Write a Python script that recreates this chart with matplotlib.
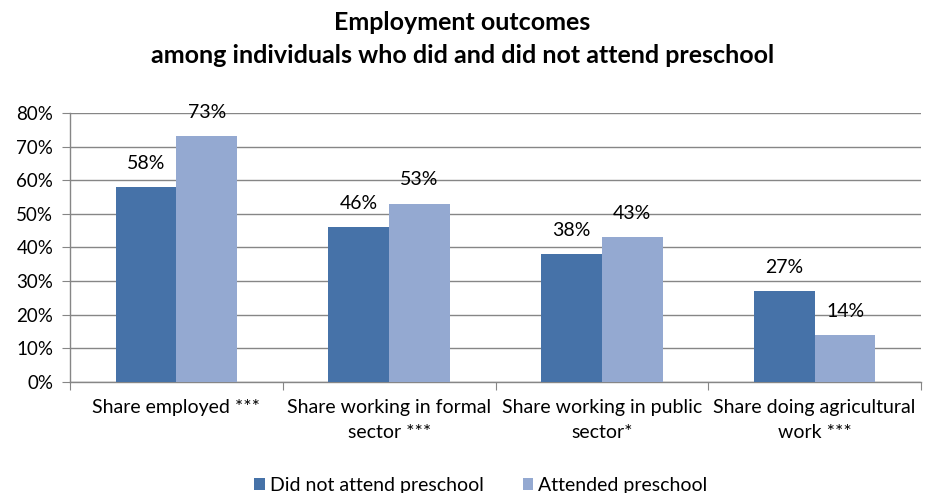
import numpy as np
import matplotlib.pyplot as plt
from matplotlib.ticker import FixedLocator, PercentFormatter

plt.rcParams['font.family'] = ['Lato', 'DejaVu Sans']

categories = ['Share employed ***', 'Share working in formal\nsector ***',
              'Share working in public\nsector*', 'Share doing agricultural\nwork ***']
did_not_attend = [58, 46, 38, 27]
attended = [73, 53, 43, 14]
series_names = ['Did not attend preschool', 'Attended preschool']

dark = '#4672a8'
light = '#94a9d1'
grid_grey = '#868686'

fig = plt.figure(figsize=(9.25, 4.93), dpi=100)
ax = fig.add_axes([0.0757, 0.225, 0.92, 0.546])

x = np.arange(len(categories))
w = 2 / 7
b1 = ax.bar(x - w / 2, did_not_attend, w, color=dark, label=series_names[0], zorder=3)
b2 = ax.bar(x + w / 2, attended, w, color=light, label=series_names[1], zorder=3)

for bars, vals in ((b1, did_not_attend), (b2, attended)):
    for bar, v in zip(bars, vals):
        ax.text(bar.get_x() + bar.get_width() / 2, v + 7.1, f'{v}%',
                ha='center', va='center', fontsize=14, zorder=4)

ax.set_xlim(-0.5, len(categories) - 0.5)
ax.set_ylim(0, 80)
ax.yaxis.set_major_locator(FixedLocator(range(0, 81, 10)))
ax.yaxis.set_major_formatter(PercentFormatter(decimals=0))
ax.grid(axis='y', color=grid_grey, linewidth=1, zorder=0)

# category labels sit between boundary ticks
ax.set_xticks(np.arange(-0.5, len(categories)), minor=False)
ax.set_xticklabels([])
ax.set_xticks(x, minor=True)
ax.set_xticklabels(categories, minor=True, fontsize=14, linespacing=1.6)
ax.tick_params(axis='x', which='minor', length=0, pad=12)
ax.tick_params(axis='x', which='major', length=6, color=grid_grey)
ax.tick_params(axis='y', length=6, color=grid_grey, labelsize=13.5, pad=6)

for side in ('top', 'right'):
    ax.spines[side].set_visible(False)
for side in ('left', 'bottom'):
    ax.spines[side].set_color(grid_grey)
    ax.spines[side].set_linewidth(1)

fig.text(0.5, 0.955, 'Employment outcomes', ha='center', va='center',
         fontsize=18, fontweight='bold')
fig.text(0.5, 0.888, 'among individuals who did and did not attend preschool',
         ha='center', va='center', fontsize=18, fontweight='bold')

fig.legend(handles=[b1, b2], labels=series_names, loc='center',
           bbox_to_anchor=(0.52, 0.015), ncol=2, frameon=False, fontsize=14,
           handlelength=0.55, handleheight=0.55, handletextpad=0.25, columnspacing=2)

fig.savefig('out.png', dpi=100)
